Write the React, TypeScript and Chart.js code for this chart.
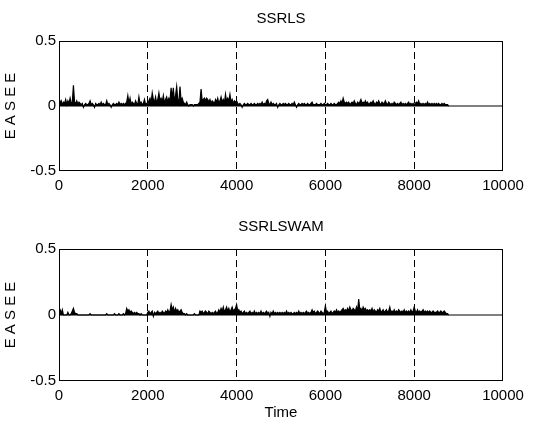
import React, { useEffect, useRef } from "react";
import { Chart, registerables } from "chart.js";
Chart.register(...registerables);

const SAMPLE_STEP = 25; // time units between stored samples
const xTicks = [0, 2000, 4000, 6000, 8000, 10000];
const yTicks = [-0.5, 0, 0.5];
const panelTitles = ["SSRLS", "SSRLSWAM"];
const yAxisLabel = "E A S E E";
const xAxisLabel = "Time";

// EASEE values in hundredths, one sample every 25 time units (0 .. 8775)
const ssrlsValues = [
  7, 2, 4, 1, 3, 2, 5, 1, 4, 2, 6, 2, 3, 16, 3, 2, 4, 1, 3, 2,
  1, 2, -1, 1, 2, 1, 1, 2, 4, 1, 2, 1, -1, 2, 1, 1, 2, 1, 3, 1,
  2, 1, 1, 4, 1, 2, 1, -1, 1, 2, 1, 1, 2, 1, 3, 1, 2, 1, 2, 1,
  2, 3, 8, 2, 6, 1, 3, 2, 1, 4, 2, 1, 7, 2, 3, 1, 2, 5, 1, 2,
  1, 4, 6, 3, 10, 5, 3, 7, 2, 5, 10, 4, 6, 3, 8, 2, 5, 7, 3, 6,
  4, 14, 6, 14, 3, 8, 15, 5, 2, 15, 4, 6, 3, 2, 1, 3, 1, 0, 1, 1,
  1, 0, 1, 1, 1, 1, 2, 3, 13, 4, 5, 6, 4, 6, 5, 3, 5, 2, 4, 3,
  2, 5, 3, 6, 2, 4, 7, 3, 5, 2, 9, 3, 6, 4, 9, 3, 5, 2, 4, 3,
  4, 2, 1, 2, 1, -1, 1, 2, 1, 1, 2, 1, 1, 2, 1, 1, 2, 1, 1, 2,
  1, 2, 1, 3, 1, 2, 1, 4, 5, 2, 1, 3, 1, 2, 1, 1, 2, -1, 1, 2,
  1, 1, 2, 1, 2, 1, 1, 2, 1, 1, 2, 1, 3, 1, -1, 1, 2, 1, 1, 2,
  1, 2, 1, 1, 2, 1, 1, 2, 3, 1, 1, 1, 2, 1, 1, 1, 2, 1, 1, 2,
  1, 1, 2, 1, 1, 2, 1, 1, 2, 1, 1, 2, 3, 2, 4, 2, 6, 3, 2, 3,
  2, 3, 1, 2, 3, 2, 4, 2, 1, 3, 2, 3, 5, 2, 3, 2, 4, 2, 3, 1,
  2, 3, 2, 4, 2, 1, 3, 2, 4, 2, 1, 3, 2, 2, 4, 2, 1, 3, 2, 1,
  2, 1, 3, 2, 1, 2, 1, 2, 3, 1, 2, 1, 2, 1, 2, 3, 1, 2, 1, 2,
  1, 2, 3, 2, 4, 1, 2, 1, 2, 1, 2, 1, 3, 1, 2, 1, 2, 1, 2, 1,
  2, 1, 2, 1, 1, 2, 1, 2, 1, 1, 1, 0,
];

const ssrlswamValues = [
  3, 4, 1, 4, 0, 0, 0, 0, 2, 0, 0, 1, 3, 5, 2, 1, 1, 0, 0, 0,
  0, 0, 0, 0, 0, 0, 0, 0, 1, 0, 0, 0, 0, 0, 0, 0, 0, 0, 0, 0,
  0, 0, 0, 1, 0, 0, 0, 0, 0, 0, 1, 0, 0, 0, 1, 0, 0, 0, 1, 0,
  1, 5, 3, 4, 2, 3, 2, 1, 2, 1, 2, 1, 1, 0, 1, 0, 0, 0, 0, 0,
  2, 3, 1, 2, 3, -1, 2, 1, 2, 3, 1, 2, 1, 3, 2, 1, 3, 2, 4, 2,
  3, 8, 4, 6, 2, 5, 3, 4, 2, 3, 4, 2, 1, 1, 0, 1, 0, 0, 0, 0,
  0, 0, 1, 0, 0, 0, 0, 3, 2, 3, 1, 2, 3, 2, 1, 3, 2, 1, 2, 1,
  2, 3, 1, 2, 4, 2, 5, 3, 6, 2, 4, 6, 3, 5, 2, 4, 6, 3, 4, 5,
  8, 3, 4, 2, 3, 1, 2, 3, 1, 2, 1, 2, 3, 1, 2, 1, 3, 1, 2, 1,
  2, 1, 3, 1, 2, 1, 2, 3, 1, 2, -1, 2, 1, 3, 1, 2, 1, 2, 1, 2,
  1, 2, 1, 2, 1, 3, 1, 2, 1, 2, 1, 1, 2, 1, 2, 1, 3, 1, 2, 1,
  2, 1, 2, 3, 1, 2, 1, 2, 4, 2, 3, 1, 2, 3, 2, 1, 3, 2, 1, 2,
  7, 2, 3, 1, 2, 3, 1, 2, 3, 2, 4, 2, 3, 2, 3, 4, 5, 3, 4, 3,
  5, 3, 6, 4, 3, 5, 4, 3, 6, 3, 12, 4, 5, 3, 6, 4, 5, 3, 4, 3,
  4, 3, 5, 2, 4, 3, 2, 4, 3, 5, 2, 3, 4, 2, 3, 4, 2, 3, 6, 2,
  3, 2, 4, 2, 3, 2, 4, 3, 2, 3, 2, 4, 2, 3, 2, 3, 2, 4, 2, 3,
  6, 3, 2, 4, 2, 3, 2, 3, 4, 2, 3, 2, 3, 2, 3, 2, 2, 3, 2, 2,
  2, 3, 2, 2, 3, 2, 2, 3, 2, 1, 1, 0,
];

const FONT = '"Liberation Sans", Arial, sans-serif';

type PanelProps = {
  title: string;
  values: number[];
  showXLabel: boolean;
  top: number;
  height: number;
  plotTop: number;
  plotBottom: number;
};

function Panel({ title, values, showXLabel, top, height, plotTop, plotBottom }: PanelProps) {
  const ref = useRef<HTMLCanvasElement | null>(null);
  useEffect(() => {
    if (!ref.current) return;
    const series = values.map((v, i) => ({ x: i * SAMPLE_STEP, y: v / 100 }));
    const zeroLine = [
      { x: xTicks[0], y: 0 },
      { x: xTicks[xTicks.length - 1], y: 0 },
    ];
    const framePlugin = {
      id: "frame",
      afterDraw(chart: any) {
        const { ctx, chartArea } = chart;
        ctx.save();
        ctx.strokeStyle = "#000";
        ctx.lineWidth = 1;
        const l = Math.round(chartArea.left) + 0.5;
        const r = Math.round(chartArea.right) - 0.5;
        const t = Math.round(chartArea.top) + 0.5;
        const b = Math.round(chartArea.bottom) - 0.5;
        ctx.strokeRect(l, t, r - l, b - t);
        ctx.fillStyle = "#000";
        ctx.font = `15px ${FONT}`;
        ctx.textAlign = "center";
        ctx.textBaseline = "middle";
        ctx.fillText(title, (chartArea.left + chartArea.right) / 2, chartArea.top - 22);
        ctx.restore();
      },
    };
    const first = xTicks[0];
    const last = xTicks[xTicks.length - 1];
    const chart = new Chart(ref.current, {
      type: "line",
      data: {
        datasets: [
          {
            data: series,
            borderColor: "#000",
            backgroundColor: "#000",
            borderWidth: 1.2,
            pointRadius: 0,
            tension: 0,
            fill: "origin",
          },
          {
            data: zeroLine,
            borderColor: "#000",
            borderWidth: 1,
            pointRadius: 0,
            fill: false,
          },
        ],
      },
      options: {
        animation: false,
        responsive: false,
        parsing: false as any,
        normalized: true,
        layout: { padding: { top: plotTop, left: 0, right: 47, bottom: 0 } },
        plugins: { legend: { display: false }, tooltip: { enabled: false }, title: { display: false } },
        scales: {
          x: {
            type: "linear",
            min: first,
            max: last,
            afterBuildTicks: (s: any) => {
              s.ticks = xTicks.map((v) => ({ value: v }));
            },
            afterFit: (s: any) => {
              s.height = height - plotBottom;
            },
            grid: {
              color: (c: any) =>
                c.tick && (c.tick.value === first || c.tick.value === last) ? "rgba(0,0,0,0)" : "#000",
              lineWidth: 1,
              drawTicks: false,
            },
            border: { display: false, dash: [7, 4] },
            ticks: {
              color: "#000",
              font: { family: FONT, size: 15 },
              padding: 6,
              maxRotation: 0,
              autoSkip: false,
              callback: (v: any) => String(v),
            },
            title: {
              display: showXLabel,
              text: xAxisLabel,
              color: "#000",
              font: { family: FONT, size: 15 },
              padding: { top: 0, bottom: 8 },
            },
          },
          y: {
            type: "linear",
            min: yTicks[0],
            max: yTicks[yTicks.length - 1],
            afterBuildTicks: (s: any) => {
              s.ticks = yTicks.map((v) => ({ value: v }));
            },
            afterFit: (s: any) => {
              s.width = 59;
            },
            grid: { display: false, drawTicks: false },
            border: { display: false },
            ticks: {
              color: "#000",
              font: { family: FONT, size: 15 },
              padding: 3,
              callback: (v: any) => String(v),
            },
            title: {
              display: true,
              text: yAxisLabel,
              color: "#000",
              font: { family: FONT, size: 15 },
              padding: { top: 2, bottom: 0 },
            },
          },
        },
      },
      plugins: [framePlugin],
    } as any);
    return () => chart.destroy();
  }, [title, values, showXLabel, height, plotTop, plotBottom]);
  return (
    <canvas
      ref={ref}
      width={550}
      height={height}
      style={{ position: "absolute", left: 0, top, width: 550, height }}
    />
  );
}

export default function App() {
  return (
    <div style={{ position: "fixed", left: 0, top: 0, width: 550, height: 430, background: "#fff" }}>
      <Panel title={panelTitles[0]} values={ssrlsValues} showXLabel={false} top={0} height={215} plotTop={41} plotBottom={171} />
      <Panel title={panelTitles[1]} values={ssrlswamValues} showXLabel={true} top={215} height={215} plotTop={34} plotBottom={166} />
    </div>
  );
}
